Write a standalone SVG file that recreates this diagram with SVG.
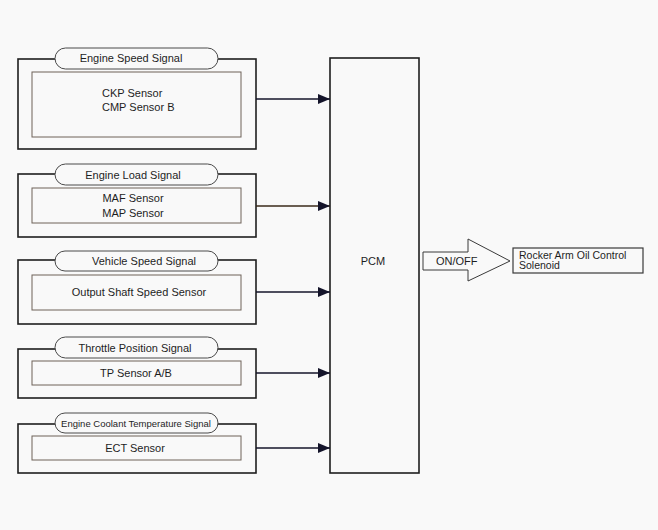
<svg xmlns="http://www.w3.org/2000/svg" width="658" height="530" viewBox="0 0 658 530">
<style>
.bg{fill:#f9f9f9}
.outer{fill:none;stroke:#1e1e1e;stroke-width:1.6}
.inner{fill:none;stroke:#6e6258;stroke-width:1}
.pill{fill:#f9f9f9;stroke:#4a4a4a;stroke-width:1}
text{font-family:"Liberation Sans",Arial,sans-serif;font-size:11px;fill:#1e1e1e}
.c{text-anchor:middle}
.conn{stroke:#14142a;stroke-width:1.6;fill:none}
</style>
<defs>
<marker id="ah" markerWidth="12" markerHeight="10" refX="12" refY="5" orient="auto" markerUnits="userSpaceOnUse">
<path d="M0,0 L12,5 L0,10 Z" fill="#14142a"/>
</marker>
</defs>
<rect class="bg" x="0" y="0" width="658" height="530"/>

<g id="engine-speed">
<rect class="outer" x="18" y="59" width="238" height="90"/>
<rect class="inner" x="32" y="72" width="209" height="65"/>
<rect class="pill" x="55" y="48" width="163" height="21" rx="10.5"/>
<text class="c" x="131" y="62">Engine Speed Signal</text>
<text x="102" y="97">CKP Sensor</text>
<text x="102" y="111">CMP Sensor B</text>
</g>

<g id="engine-load">
<rect class="outer" x="18" y="174" width="238" height="63"/>
<rect class="inner" x="32" y="188" width="209" height="35"/>
<rect class="pill" x="55" y="164" width="163" height="21" rx="10.5"/>
<text class="c" x="133" y="179">Engine Load Signal</text>
<text class="c" x="133" y="202">MAF Sensor</text>
<text class="c" x="133" y="217">MAP Sensor</text>
</g>

<g id="vehicle-speed">
<rect class="outer" x="18" y="260" width="238" height="64"/>
<rect class="inner" x="32" y="275" width="209" height="35"/>
<rect class="pill" x="55" y="251" width="163" height="20" rx="10"/>
<text class="c" x="144" y="265">Vehicle Speed Signal</text>
<text class="c" x="139" y="296">Output Shaft Speed Sensor</text>
</g>

<g id="throttle-position">
<rect class="outer" x="18" y="349" width="238" height="49"/>
<rect class="inner" x="32" y="361" width="209" height="24"/>
<rect class="pill" x="55" y="337" width="163" height="21" rx="10.5"/>
<text class="c" x="135" y="352">Throttle Position Signal</text>
<text class="c" x="136" y="377">TP Sensor A/B</text>
</g>

<g id="engine-coolant">
<rect class="outer" x="18" y="424" width="238" height="49"/>
<rect class="inner" x="32" y="436" width="209" height="24"/>
<rect class="pill" x="55" y="413" width="163" height="20" rx="10"/>
<text class="c" x="136" y="426.5" style="font-size:9.5px">Engine Coolant Temperature Signal</text>
<text class="c" x="135" y="452">ECT Sensor</text>
</g>

<g id="pcm">
<rect class="outer" x="330" y="58" width="89" height="415"/>
<text class="c" x="373" y="265">PCM</text>
</g>

<g id="on-off">
<path d="M423,252 L468,252 L468,239 L510,261 L468,281 L468,270 L423,270 Z" fill="#f9f9f9" stroke="#3a3a3a" stroke-width="1"/>
<text x="436" y="265">ON/OFF</text>
</g>

<g id="solenoid">
<rect x="513" y="248" width="130" height="25" fill="#f9f9f9" stroke="#3a3a3a" stroke-width="1.2"/>
<text x="519" y="258.5" style="font-size:10.5px">Rocker Arm Oil Control</text>
<text x="519" y="269" style="font-size:10.5px">Solenoid</text>
</g>

<g id="connectors">
<line class="conn" x1="256" y1="99" x2="330" y2="99" marker-end="url(#ah)"/>
<line class="conn" x1="256" y1="206" x2="330" y2="206" marker-end="url(#ah)" style="stroke:#3a2a1a"/>
<line class="conn" x1="256" y1="292" x2="330" y2="292" marker-end="url(#ah)"/>
<line class="conn" x1="256" y1="373" x2="330" y2="373" marker-end="url(#ah)"/>
<line class="conn" x1="256" y1="448" x2="330" y2="448" marker-end="url(#ah)"/>
</g>
</svg>
